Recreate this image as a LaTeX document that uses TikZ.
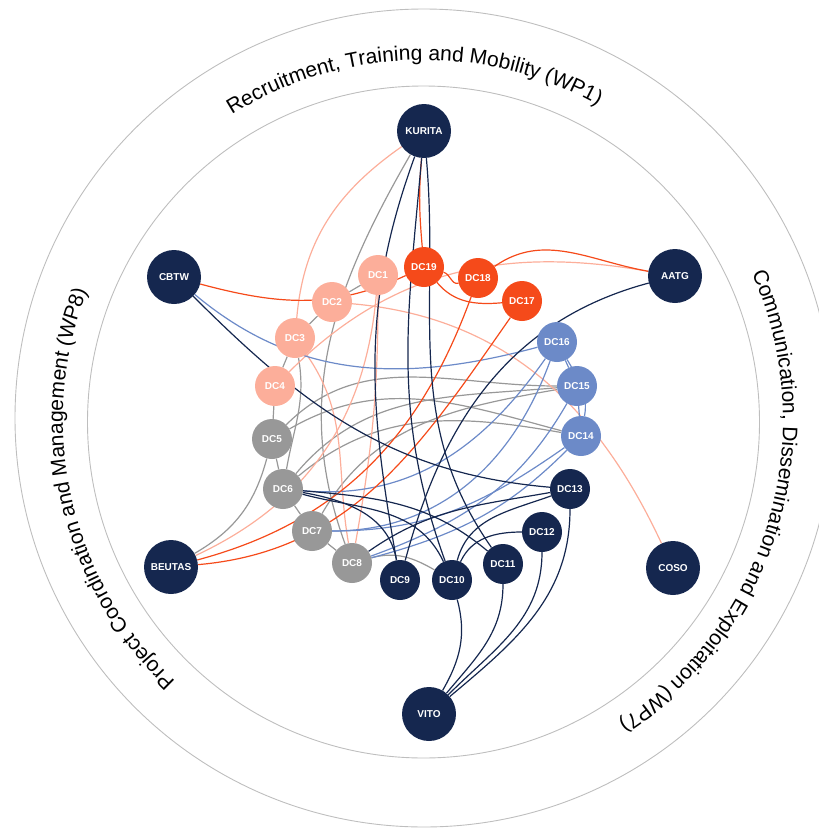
\documentclass[tikz,border=0pt]{standalone}
\usepackage{fontspec}
\setmainfont{Liberation Sans}
\usetikzlibrary{decorations.text}
\definecolor{navyc}{RGB}{21,39,79}
\definecolor{flame}{RGB}{245,74,26}
\definecolor{salmonc}{RGB}{252,174,154}
\definecolor{greyc}{RGB}{152,152,152}
\definecolor{bluec}{RGB}{108,138,200}
\definecolor{ringc}{RGB}{190,190,190}
\newcommand{\wpfont}{\fontsize{21}{25}\selectfont}
\pgfdeclarelayer{back}
\pgfsetlayers{back,main}
\begin{document}
\begin{tikzpicture}[x=1pt,y=1pt,
partner/.style={circle,fill=navyc,minimum size=54pt,inner sep=0pt,text=white,font=\bfseries\fontsize{10}{12}\selectfont},
dc/.style={circle,fill=#1,minimum size=40pt,inner sep=0pt,text=white,font=\bfseries\fontsize{10}{12}\selectfont},
ring/.style={ringc,line width=0.9pt},
nv/.style={navyc,line width=1.2pt},
fl/.style={flame,line width=1.2pt},
sa/.style={salmonc,line width=1.2pt},
gy/.style={greyc,line width=1.2pt},
bl/.style={bluec,line width=1.2pt},
wp/.style={decorate,decoration={text along path,text align=center,text={|\wpfont|#1}}}]
\useasboundingbox (0,0) rectangle (819,-828);
\node[partner] (kurita) at (424,-131) {KURITA};
\node[partner] (cbtw) at (174,-277) {CBTW};
\node[partner] (aatg) at (675,-276) {AATG};
\node[partner] (beutas) at (171,-567) {BEUTAS};
\node[partner] (coso) at (673,-568) {COSO};
\node[partner] (vito) at (429,-714) {VITO};
\node[dc=salmonc] (dc1) at (378,-275) {DC1};
\node[dc=salmonc] (dc2) at (332,-302) {DC2};
\node[dc=salmonc] (dc3) at (295,-338) {DC3};
\node[dc=salmonc] (dc4) at (275,-386) {DC4};
\node[dc=greyc] (dc5) at (272,-439) {DC5};
\node[dc=greyc] (dc6) at (283,-489) {DC6};
\node[dc=greyc] (dc7) at (312,-531) {DC7};
\node[dc=greyc] (dc8) at (352,-563) {DC8};
\node[dc=navyc] (dc9) at (400,-580) {DC9};
\node[dc=navyc] (dc10) at (452,-580) {DC10};
\node[dc=navyc] (dc11) at (503,-564) {DC11};
\node[dc=navyc] (dc12) at (542,-532) {DC12};
\node[dc=navyc] (dc13) at (570,-489) {DC13};
\node[dc=bluec] (dc14) at (581,-436) {DC14};
\node[dc=bluec] (dc15) at (577,-386) {DC15};
\node[dc=bluec] (dc16) at (557,-342) {DC16};
\node[dc=flame] (dc17) at (522,-301) {DC17};
\node[dc=flame] (dc18) at (478,-278) {DC18};
\node[dc=flame] (dc19) at (424,-267) {DC19};
\path[wp={Recruitment, Training and Mobility (WP1)}] ([shift={(423,-420)}]141.5:360) arc[start angle=141.5,end angle=41.5,radius=360];
\path[wp={Communication, Dissemination and Exploitation (WP7)}] ([shift={(423,-420)}]43.5:360) arc[start angle=43.5,end angle=-76.5,radius=360];
\path[wp={Project Coordination and Management (WP8)}] ([shift={(423,-420)}]252.75:360) arc[start angle=252.75,end angle=132.75,radius=360];
\begin{pgfonlayer}{back}
\draw[ring] (424,-418) circle[radius=409];
\draw[ring] (423.5,-422) circle[radius=336];
\draw[gy] (dc1) edge (dc2);
\draw[gy] (dc2) edge (dc3);
\draw[gy] (dc3) edge (dc4);
\draw[gy] (dc4) edge (dc5);
\draw[gy] (dc5) edge (dc6);
\draw[gy] (dc6) edge (dc7);
\draw[gy] (dc7) edge (dc8);
\draw[gy] (dc3) edge[out=-80,in=80] (dc6);
\draw[gy] (kurita) edge[out=240,in=110] (dc8);
\draw[gy] (beutas) edge[out=30,in=255] (dc5);
\draw[gy] (dc5) edge[out=45,in=180] (dc15);
\draw[gy] (dc5) edge[out=30,in=165] (dc14);
\draw[gy] (dc6) edge[out=50,in=185] (dc15);
\draw[gy] (dc6) edge[out=40,in=170] (dc14);
\draw[gy] (dc7) edge[out=60,in=190] (dc15);
\draw[gy] (dc8) edge[out=15,in=150] (dc10);
\draw[sa] (kurita) edge[out=215,in=85] (dc3);
\draw[sa] (dc2) edge[out=-5,in=115] (coso);
\draw[sa] (aatg) edge[out=170,in=45] (dc4);
\draw[sa] (beutas) edge[out=25,in=265] (dc1);
\draw[sa] (dc3) edge[out=-55,in=100] (dc8);
\draw[sa] (dc1) edge[out=270,in=80] (dc8);
\draw[bl] (cbtw) edge[out=-40,in=195] (dc16);
\draw[bl] (dc16) edge (dc15);
\draw[bl] (dc15) edge (dc14);
\draw[bl] (dc16) edge[out=-60,in=80] (dc14);
\draw[bl] (dc6) edge[out=-5,in=235] (dc16);
\draw[bl] (dc7) edge[out=0,in=250] (dc16);
\draw[bl] (dc7) edge[out=0,in=215] (dc14);
\draw[bl] (dc8) edge[out=20,in=240] (dc15);
\draw[bl] (dc8) edge[out=15,in=225] (dc14);
\draw[fl] (kurita) edge[out=265,in=95] (dc19);
\draw[fl] (dc19) edge[out=-15,in=195] (dc18);
\draw[fl] (dc19) edge[out=-50,in=185] (dc17);
\draw[fl] (dc18) edge[out=35,in=170] (aatg);
\draw[fl] (cbtw) edge[out=-15,in=205] (dc19);
\draw[fl] (beutas) edge[out=15,in=250] (dc18);
\draw[fl] (beutas) edge[out=5,in=235] (dc17);
\draw[nv] (kurita) edge[out=250,in=100] (dc9);
\draw[nv] (kurita) edge[out=265,in=110] (dc10);
\draw[nv] (kurita) edge[out=275,in=125] (dc11);
\draw[nv] (cbtw) edge[out=-45,in=175] (dc13);
\draw[nv] (aatg) edge[out=195,in=75] (dc9);
\draw[nv] (dc6) edge[out=-10,in=100] (dc9);
\draw[nv] (dc6) edge[out=-15,in=115] (dc10);
\draw[nv] (dc6) edge[out=-5,in=140] (dc11);
\draw[nv] (dc8) edge[out=35,in=190] (dc13);
\draw[nv] (dc10) edge[out=75,in=200] (dc13);
\draw[nv] (dc10) edge[out=65,in=180] (dc12);
\draw[nv] (vito) edge[out=60,in=-75] (dc10);
\draw[nv] (vito) edge[out=50,in=-90] (dc11);
\draw[nv] (vito) edge[out=45,in=-90] (dc12);
\draw[nv] (vito) edge[out=40,in=-90] (dc13);
\end{pgfonlayer}
\end{tikzpicture}
\end{document}
